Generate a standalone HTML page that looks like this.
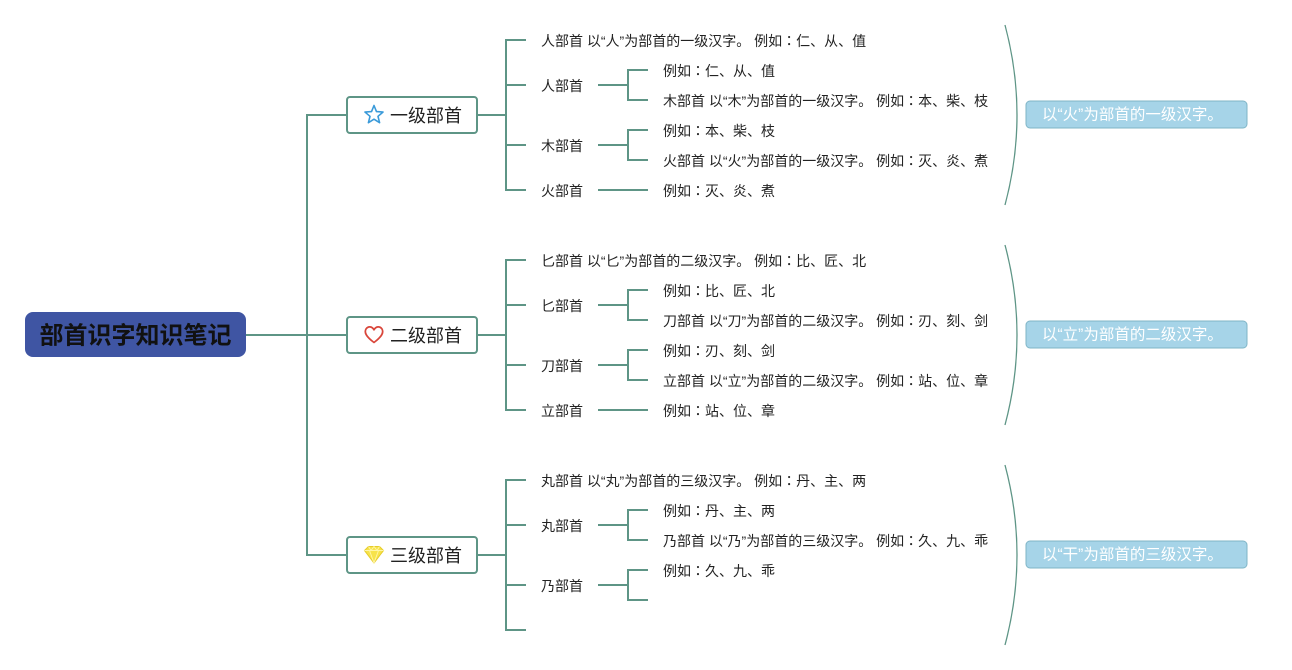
<!DOCTYPE html>
<html><head><meta charset="utf-8">
<style>
html,body{margin:0;padding:0;background:#fff;}
svg{display:block;}
text{font-family:"Liberation Sans","Noto Sans CJK SC",sans-serif;fill:#222;}
.s{font-size:14px;}
.l1{font-size:18px;}
.sum{font-size:15.5px;fill:#fff;}
.c{font-family:"Noto Sans CJK TC",sans-serif;}
</style></head>
<body>
<svg width="1292" height="670" viewBox="0 0 1292 670" xmlns="http://www.w3.org/2000/svg">
<g stroke="#5e9586" stroke-width="2" fill="none">
  <!-- trunk -->
  <line x1="246" y1="335" x2="307" y2="335"/>
  <line x1="307" y1="114" x2="307" y2="556"/>
  <line x1="306" y1="115" x2="347" y2="115"/>
  <line x1="306" y1="335" x2="347" y2="335"/>
  <line x1="306" y1="555" x2="347" y2="555"/>
  <!-- group 1 -->
  <line x1="477" y1="115" x2="506" y2="115"/>
  <line x1="506" y1="39" x2="506" y2="191"/>
  <line x1="505" y1="40" x2="526" y2="40"/>
  <line x1="505" y1="85" x2="526" y2="85"/>
  <line x1="505" y1="145" x2="526" y2="145"/>
  <line x1="505" y1="190" x2="526" y2="190"/>
  <line x1="598" y1="85" x2="628" y2="85"/>
  <line x1="628" y1="69" x2="628" y2="101"/>
  <line x1="627" y1="70" x2="648" y2="70"/>
  <line x1="627" y1="100" x2="648" y2="100"/>
  <line x1="598" y1="145" x2="628" y2="145"/>
  <line x1="628" y1="129" x2="628" y2="161"/>
  <line x1="627" y1="130" x2="648" y2="130"/>
  <line x1="627" y1="160" x2="648" y2="160"/>
  <line x1="598" y1="190" x2="648" y2="190"/>
  <!-- group 2 -->
  <line x1="477" y1="335" x2="506" y2="335"/>
  <line x1="506" y1="259" x2="506" y2="411"/>
  <line x1="505" y1="260" x2="526" y2="260"/>
  <line x1="505" y1="305" x2="526" y2="305"/>
  <line x1="505" y1="365" x2="526" y2="365"/>
  <line x1="505" y1="410" x2="526" y2="410"/>
  <line x1="598" y1="305" x2="628" y2="305"/>
  <line x1="628" y1="289" x2="628" y2="321"/>
  <line x1="627" y1="290" x2="648" y2="290"/>
  <line x1="627" y1="320" x2="648" y2="320"/>
  <line x1="598" y1="365" x2="628" y2="365"/>
  <line x1="628" y1="349" x2="628" y2="381"/>
  <line x1="627" y1="350" x2="648" y2="350"/>
  <line x1="627" y1="380" x2="648" y2="380"/>
  <line x1="598" y1="410" x2="648" y2="410"/>
  <!-- group 3 -->
  <line x1="477" y1="555" x2="506" y2="555"/>
  <line x1="506" y1="479" x2="506" y2="631"/>
  <line x1="505" y1="480" x2="526" y2="480"/>
  <line x1="505" y1="525" x2="526" y2="525"/>
  <line x1="505" y1="585" x2="526" y2="585"/>
  <line x1="505" y1="630" x2="526" y2="630"/>
  <line x1="598" y1="525" x2="628" y2="525"/>
  <line x1="628" y1="509" x2="628" y2="541"/>
  <line x1="627" y1="510" x2="648" y2="510"/>
  <line x1="627" y1="540" x2="648" y2="540"/>
  <line x1="598" y1="585" x2="628" y2="585"/>
  <line x1="628" y1="569" x2="628" y2="601"/>
  <line x1="627" y1="570" x2="648" y2="570"/>
  <line x1="627" y1="600" x2="648" y2="600"/>
</g>
<!-- brackets -->
<g stroke="#5e9586" stroke-width="1.3" fill="none">
  <path d="M1005,25 Q1029,115 1005,205"/>
  <path d="M1005,245 Q1029,335 1005,425"/>
  <path d="M1005,465 Q1029,555 1005,645"/>
</g>
<!-- root -->
<rect x="25" y="312" width="221" height="45" rx="8" fill="#3f55a3"/>
<text x="135.5" y="336" text-anchor="middle" dominant-baseline="central" style="font-size:24px;font-weight:bold;fill:#111;">部首识字知识笔记</text>
<!-- level 1 boxes -->
<g fill="#fff" stroke="#5e9586" stroke-width="2">
  <rect x="347" y="97" width="130" height="36" rx="3"/>
  <rect x="347" y="317" width="130" height="36" rx="3"/>
  <rect x="347" y="537" width="130" height="36" rx="3"/>
</g>
<!-- icons -->
<polygon points="374,105.5 376.47,111.6 383.03,112.06 377.99,116.3 379.59,122.69 374,119.2 368.41,122.69 370.01,116.3 364.97,112.06 371.53,111.6" fill="none" stroke="#3a9ad9" stroke-width="1.6" stroke-linejoin="round"/>
<path d="M374,342.5 C366,336.5 364,332.5 366,329 C368,326 372,326 374,329.8 C376,326 380,326 382,329 C384,332.5 382,336.5 374,342.5 Z" fill="none" stroke="#d9463b" stroke-width="1.7" stroke-linejoin="round"/>
<g>
  <polygon points="364.5,550.5 368.5,546.5 379.5,546.5 383.5,550.5 374,563" fill="#f7e34b" stroke="#e6cc2a" stroke-width="1"/>
  <line x1="364.5" y1="550.5" x2="383.5" y2="550.5" stroke="#fff6a8" stroke-width="0.9"/>
  <polyline points="369.5,550.5 374,563 378.5,550.5" stroke="#fff6a8" stroke-width="0.9" fill="none"/>
  <polyline points="368.5,546.5 371,550.5 374,546.5 377,550.5 379.5,546.5" stroke="#fff6a8" stroke-width="0.9" fill="none"/>
</g>
<text class="l1" x="390" y="116" dominant-baseline="central">一级部首</text>
<text class="l1" x="390" y="336" dominant-baseline="central">二级部首</text>
<text class="l1" x="390" y="556" dominant-baseline="central">三级部首</text>
<!-- group 1 texts -->
<text class="s" x="541" y="41" dominant-baseline="central">人部首 以“人”为部首的一级汉字。 例如<tspan class="c">：</tspan>仁、从、值</text>
<text class="s" x="541" y="86" dominant-baseline="central">人部首</text>
<text class="s" x="541" y="146" dominant-baseline="central">木部首</text>
<text class="s" x="541" y="191" dominant-baseline="central">火部首</text>
<text class="s" x="663" y="71" dominant-baseline="central">例如<tspan class="c">：</tspan>仁、从、值</text>
<text class="s" x="663" y="101" dominant-baseline="central">木部首 以“木”为部首的一级汉字。 例如<tspan class="c">：</tspan>本、柴、枝</text>
<text class="s" x="663" y="131" dominant-baseline="central">例如<tspan class="c">：</tspan>本、柴、枝</text>
<text class="s" x="663" y="161" dominant-baseline="central">火部首 以“火”为部首的一级汉字。 例如<tspan class="c">：</tspan>灭、炎、煮</text>
<text class="s" x="663" y="191" dominant-baseline="central">例如<tspan class="c">：</tspan>灭、炎、煮</text>
<!-- group 2 -->
<text class="s" x="541" y="261" dominant-baseline="central">匕部首 以“匕”为部首的二级汉字。 例如<tspan class="c">：</tspan>比、匠、北</text>
<text class="s" x="541" y="306" dominant-baseline="central">匕部首</text>
<text class="s" x="541" y="366" dominant-baseline="central">刀部首</text>
<text class="s" x="541" y="411" dominant-baseline="central">立部首</text>
<text class="s" x="663" y="291" dominant-baseline="central">例如<tspan class="c">：</tspan>比、匠、北</text>
<text class="s" x="663" y="321" dominant-baseline="central">刀部首 以“刀”为部首的二级汉字。 例如<tspan class="c">：</tspan>刃、刻、剑</text>
<text class="s" x="663" y="351" dominant-baseline="central">例如<tspan class="c">：</tspan>刃、刻、剑</text>
<text class="s" x="663" y="381" dominant-baseline="central">立部首 以“立”为部首的二级汉字。 例如<tspan class="c">：</tspan>站、位、章</text>
<text class="s" x="663" y="411" dominant-baseline="central">例如<tspan class="c">：</tspan>站、位、章</text>
<!-- group 3 -->
<text class="s" x="541" y="481" dominant-baseline="central">丸部首 以“丸”为部首的三级汉字。 例如<tspan class="c">：</tspan>丹、主、两</text>
<text class="s" x="541" y="526" dominant-baseline="central">丸部首</text>
<text class="s" x="541" y="586" dominant-baseline="central">乃部首</text>
<text class="s" x="663" y="511" dominant-baseline="central">例如<tspan class="c">：</tspan>丹、主、两</text>
<text class="s" x="663" y="541" dominant-baseline="central">乃部首 以“乃”为部首的三级汉字。 例如<tspan class="c">：</tspan>久、九、乖</text>
<text class="s" x="663" y="571" dominant-baseline="central">例如<tspan class="c">：</tspan>久、九、乖</text>
<!-- summaries -->
<g fill="#a6d4e8" stroke="#7fb5c6" stroke-width="1">
  <rect x="1026" y="101" width="221" height="27" rx="4"/>
  <rect x="1026" y="321" width="221" height="27" rx="4"/>
  <rect x="1026" y="541" width="221" height="27" rx="4"/>
</g>
<text class="sum" x="1042" y="115" dominant-baseline="central">以“火”为部首的一级汉字。</text>
<text class="sum" x="1042" y="335" dominant-baseline="central">以“立”为部首的二级汉字。</text>
<text class="sum" x="1042" y="555" dominant-baseline="central">以“干”为部首的三级汉字。</text>
</svg>
</body></html>
